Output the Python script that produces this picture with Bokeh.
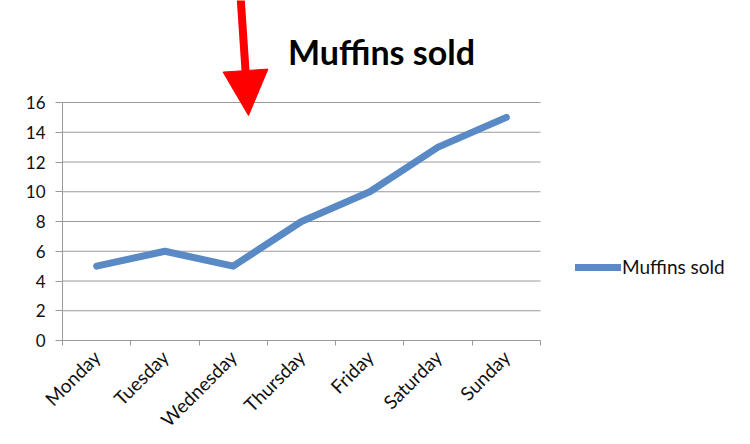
import numpy as np
from bokeh.plotting import figure
from bokeh.models import (FixedTicker, Legend, LegendItem, Label, Arrow, NormalHead,
                          ColumnDataSource, Range1d)
from bokeh.embed import file_html
from bokeh.resources import INLINE

days = ["Monday", "Tuesday", "Wednesday", "Thursday", "Friday", "Saturday", "Sunday"]
muffins_sold = [5, 6, 5, 8, 10, 13, 15]
y_ticks = [0, 2, 4, 6, 8, 10, 12, 14, 16]
title_text = "Muffins sold"
series_name = "Muffins sold"

FONT = "Lato"
GRID = "#9a9a9a"
LINE = "#5a8ac6"
TXT = "#111111"

# layout (pixels): plot box of the chart and the whole canvas
W, H = 750, 444
LEFT, BOTTOM = 62, 104          # axis panels
PLOT_W, PLOT_H = 478, 238       # area holding 0..7 x 0..16
FRAME_W, FRAME_H = W - LEFT, H - BOTTOM
n = len(days)
y_max = y_ticks[-1]

x_pos = [i + 0.5 for i in range(n)]
src = ColumnDataSource(dict(x=x_pos, y=muffins_sold, day=days))

p = figure(frame_width=FRAME_W, frame_height=FRAME_H,
           min_border_left=LEFT, min_border_right=0,
           min_border_top=0, min_border_bottom=BOTTOM,
           x_range=Range1d(0, n * FRAME_W / PLOT_W),
           y_range=Range1d(0, y_max * FRAME_H / PLOT_H),
           output_backend="svg", toolbar_location=None,
           background_fill_color="white", border_fill_color="white")
p.outline_line_color = None
p.xgrid.visible = False
p.ygrid.visible = False

# horizontal gridlines across the plot box only
p.segment(x0=[0] * len(y_ticks), x1=[n] * len(y_ticks), y0=y_ticks, y1=y_ticks,
          line_color=GRID, line_width=1)

# x axis: labels at category centres, tick marks at band boundaries (minor ticks)
p.xaxis.ticker = FixedTicker(ticks=x_pos, minor_ticks=list(range(n + 1)))
p.xaxis.bounds = (0, n)
p.xaxis.major_label_overrides = {x: d for x, d in zip(x_pos, days)}
p.xaxis.major_tick_line_color = None
p.xaxis.minor_tick_line_color = GRID
p.xaxis.minor_tick_out = 5
p.xaxis.minor_tick_in = 0
p.xaxis.axis_line_color = GRID
p.xaxis.major_label_orientation = np.pi / 4
p.xaxis.major_label_text_font = FONT
p.xaxis.major_label_text_font_size = "19px"
p.xaxis.major_label_text_color = TXT
p.xaxis.major_label_standoff = 7

p.yaxis.ticker = FixedTicker(ticks=y_ticks, minor_ticks=[])
p.yaxis.bounds = (0, y_max)
p.yaxis.axis_line_color = GRID
p.yaxis.major_tick_line_color = GRID
p.yaxis.major_tick_out = 7
p.yaxis.major_tick_in = 0
p.yaxis.major_label_text_font = FONT
p.yaxis.major_label_text_font_size = "17px"
p.yaxis.major_label_text_color = TXT
p.yaxis.major_label_standoff = 10

r = p.line("x", "y", source=src, line_color=LINE, line_width=7,
           line_join="round", line_cap="round")

legend = Legend(items=[LegendItem(label=series_name, renderers=[r])],
                location=(513, 62), padding=0, margin=0, spacing=0,
                glyph_width=46, glyph_height=20, label_standoff=1,
                label_text_font=FONT, label_text_font_size="19px",
                label_text_color=TXT,
                border_line_color=None, background_fill_alpha=0)
p.add_layout(legend, "center")

title = Label(x=319, y=289, x_units="screen", y_units="screen", text=title_text,
              text_font=FONT, text_font_style="bold", text_font_size="34px",
              text_align="center", text_baseline="middle", text_color="black")
p.add_layout(title)

arrow = Arrow(x_start=178, y_start=345, x_end=186, y_end=225,
              start_units="screen", end_units="screen",
              line_color="#ff0000", line_width=8,
              end=NormalHead(size=45, fill_color="#ff0000", line_color="#ff0000"))
p.add_layout(arrow)

open("out.html", "w").write(file_html(p, INLINE))
